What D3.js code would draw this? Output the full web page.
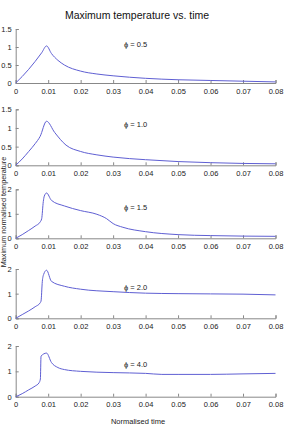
<!DOCTYPE html>
<html>
<head>
<meta charset="utf-8">
<script src="https://cdn.jsdelivr.net/npm/d3@7"></script>
<style>
  body { margin: 0; background: #fff; }
  svg { font-family: "Liberation Sans", Arial, sans-serif; }
</style>
</head>
<body>
<svg width="288" height="431"></svg>
<script>
// temps normalisé et température max pour chaque valeur de phi
var xTicks = [0, 0.01, 0.02, 0.03, 0.04, 0.05, 0.06, 0.07, 0.08];
var phiLabels = ["ϕ = 0.5", "ϕ = 1.0", "ϕ = 1.5", "ϕ = 2.0", "ϕ = 4.0"];
var yMax = [1.5, 1.5, 2, 2, 2];
var yTicks = [[0, 0.5, 1, 1.5], [0, 0.5, 1, 1.5], [0, 1, 2], [0, 1, 2], [0, 1, 2]];

var t05 = [0, 0.002, 0.004, 0.006, 0.008, 0.0095, 0.011, 0.013, 0.015, 0.02, 0.025, 0.03, 0.04, 0.05, 0.06, 0.07, 0.08];
var v05 = [0, 0.18, 0.38, 0.6, 0.84, 1.03, 0.82, 0.63, 0.5, 0.33, 0.25, 0.2, 0.13, 0.09, 0.07, 0.05, 0.03];

var t10 = [0, 0.002, 0.004, 0.006, 0.0075, 0.0095, 0.012, 0.0155, 0.02, 0.025, 0.03, 0.04, 0.05, 0.06, 0.07, 0.08];
var v10 = [0, 0.17, 0.37, 0.58, 0.77, 1.18, 0.88, 0.54, 0.37, 0.28, 0.22, 0.15, 0.1, 0.07, 0.05, 0.04];

var t15 = [0, 0.002, 0.004, 0.006, 0.0075, 0.008, 0.0085, 0.0088, 0.0095, 0.011, 0.015, 0.02, 0.025, 0.028, 0.03, 0.033, 0.04, 0.05, 0.06, 0.07, 0.08];
var v15 = [0, 0.15, 0.32, 0.5, 0.66, 0.8, 1.5, 1.72, 1.85, 1.55, 1.32, 1.13, 0.98, 0.8, 0.6, 0.45, 0.27, 0.15, 0.11, 0.09, 0.08];

var t20 = [0, 0.002, 0.004, 0.006, 0.0075, 0.0078, 0.0082, 0.0086, 0.0095, 0.011, 0.015, 0.02, 0.03, 0.04, 0.05, 0.06, 0.07, 0.08];
var v20 = [0, 0.15, 0.3, 0.47, 0.62, 0.7, 1.5, 1.78, 1.95, 1.5, 1.3, 1.18, 1.08, 1.02, 1.0, 0.99, 0.98, 0.95];

var t40 = [0, 0.002, 0.004, 0.006, 0.0072, 0.0076, 0.0078, 0.0095, 0.011, 0.013, 0.015, 0.02, 0.03, 0.04, 0.045, 0.05, 0.06, 0.07, 0.08];
var v40 = [0, 0.12, 0.27, 0.42, 0.55, 0.7, 1.6, 1.72, 1.35, 1.15, 1.07, 1.0, 0.95, 0.92, 0.88, 0.88, 0.88, 0.9, 0.92];

var series = [[t05, v05], [t10, v10], [t15, v15], [t20, v20], [t40, v40]];

// positions des panneaux (haut = valeur max, bas = 0)
var panels = [[29, 83], [109.3, 165.3], [189.3, 238.3], [269, 318.3], [346, 396.7]];

var svg = d3.select("svg");
var x = d3.scaleLinear().domain([0, 0.08]).range([15.7, 275.5]);
var grey = "#888";

svg.append("text")
  .attr("x", 137).attr("y", 19)
  .attr("text-anchor", "middle")
  .attr("fill", "#111")
  .style("font-size", "10.5px")
  .text("Maximum temperature vs. time");

series.forEach(function(s, i) {
  var y = d3.scaleLinear().domain([0, yMax[i]]).range([panels[i][1], panels[i][0]]);
  var g = svg.append("g");

  // axe x
  var ax = g.append("g")
    .attr("transform", "translate(0," + panels[i][1] + ")")
    .call(d3.axisBottom(x).tickValues(xTicks).tickSize(-3).tickPadding(4)
      .tickFormat(function(d) { return d === 0 ? "0" : d3.format(".2f")(d); }));
  ax.select(".domain").attr("stroke", grey);
  ax.selectAll(".tick line").attr("stroke", grey);
  ax.selectAll("text").style("font-size", "7.5px").attr("fill", "#222").attr("dy", "0.9em");

  // axe y
  var ay = g.append("g")
    .attr("transform", "translate(" + x(0) + ",0)")
    .call(d3.axisLeft(y).tickValues(yTicks[i]).tickSize(-3).tickPadding(4)
      .tickFormat(d3.format("~g")));
  ay.select(".domain").attr("stroke", grey);
  ay.selectAll(".tick line").attr("stroke", grey);
  ay.selectAll("text").style("font-size", "7.5px").attr("fill", "#222");

  var pts = s[0].map(function(t, k) { return [t, s[1][k]]; });
  g.append("path")
    .datum(pts)
    .attr("fill", "none")
    .attr("stroke", "#5f5fd3")
    .attr("stroke-width", 1)
    .attr("d", d3.line()
      .x(function(d) { return x(d[0]); })
      .y(function(d) { return y(d[1]); })
      .curve(d3.curveMonotoneX));

  g.append("text")
    .attr("x", 124).attr("y", y(yMax[i]) + (i < 2 ? 17.5 : 21))
    .attr("fill", "#222")
    .style("font-size", "7.5px")
    .text(phiLabels[i]);
});

svg.append("text")
  .attr("transform", "translate(6,212) rotate(-90)")
  .attr("text-anchor", "middle")
  .attr("fill", "#222")
  .style("font-size", "7.3px")
  .text("Maximum normalised temperature");

svg.append("text")
  .attr("x", 138).attr("y", 424)
  .attr("text-anchor", "middle")
  .attr("fill", "#222")
  .style("font-size", "7.5px")
  .text("Normalised time");
</script>
</body>
</html>
